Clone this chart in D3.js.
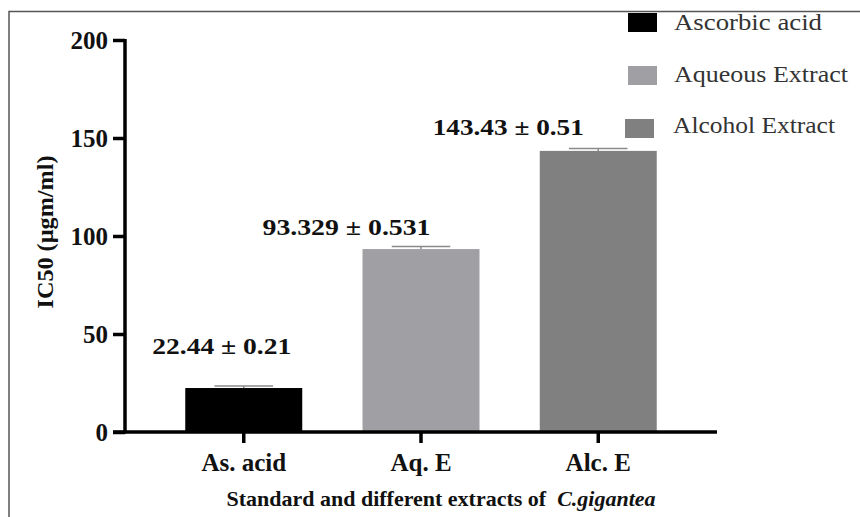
<!DOCTYPE html>
<html>
<head>
<meta charset="utf-8">
<script src="https://cdn.jsdelivr.net/npm/d3@7"></script>
<style>
  html, body { margin: 0; padding: 0; background: #fff; }
  svg { display: block; }
  text { font-family: "Liberation Serif", "Times New Roman", serif; }
</style>
</head>
<body>
<svg id="chart" width="860" height="517"></svg>
<script>
// ---- data ----
const categories = ["As. acid", "Aq. E", "Alc. E"];
const means = [22.44, 93.329, 143.43];
const errors = [0.21, 0.531, 0.51];
const valueLabels = ["22.44 ± 0.21", "93.329 ± 0.531", "143.43 ± 0.51"];
const seriesNames = ["Ascorbic acid", "Aqueous Extract", "Alcohol Extract"];
const yTicks = [0, 50, 100, 150, 200];

// ---- styling / layout ----
const colors = ["#000000", "#a0a0a4", "#808080"];
const labelOffsets = [{dx: -33, dy: -34}, {dx: -100, dy: -14}, {dx: -107, dy: -16}];

const svg = d3.select("#chart");

// frame (top and left edges visible)
svg.append("path")
  .attr("d", "M9,517 V11.5 H860")
  .attr("fill", "none").attr("stroke", "#555").attr("stroke-width", 1.5);

const x = d3.scaleBand().domain(categories).range([125, 717])
  .paddingInner(0.34).paddingOuter(0.34);
const y = d3.scaleLinear().domain([0, 200]).range([432, 40]);

const data = categories.map((c, i) => ({c, m: means[i], e: errors[i], lab: valueLabels[i], col: colors[i], off: labelOffsets[i]}));

// bars
svg.append("g").selectAll("rect").data(data).join("rect")
  .attr("x", d => x(d.c)).attr("width", x.bandwidth())
  .attr("y", d => y(d.m)).attr("height", d => y(0) - y(d.m))
  .attr("fill", d => d.col);

// error bars
const eb = svg.append("g").attr("stroke", "#8a8a8a").attr("stroke-width", 1.5);
eb.selectAll("line.v").data(data).join("line").attr("class", "v")
  .attr("x1", d => x(d.c) + x.bandwidth() / 2).attr("x2", d => x(d.c) + x.bandwidth() / 2)
  .attr("y1", d => y(d.m)).attr("y2", d => y(d.m + d.e) - 1.5);
eb.selectAll("line.c").data(data).join("line").attr("class", "c")
  .attr("x1", d => x(d.c) + x.bandwidth() / 4).attr("x2", d => x(d.c) + x.bandwidth() * 3 / 4)
  .attr("y1", d => y(d.m + d.e) - 1.5).attr("y2", d => y(d.m + d.e) - 1.5);

// y axis
const yAxis = svg.append("g").attr("transform", "translate(125,0)")
  .call(d3.axisLeft(y).tickValues(yTicks).tickSize(12).tickPadding(5).tickSizeOuter(0));
yAxis.select(".domain").attr("stroke", "#000").attr("stroke-width", 3.5).attr("d", `M0,${y(200) - 1}V${y(0) + 1.5}`);
yAxis.selectAll(".tick line").attr("stroke", "#000").attr("stroke-width", 3.5);
yAxis.selectAll(".tick text").attr("fill", "#111")
  .style("font-family", "Liberation Serif, serif").style("font-size", "25px").style("font-weight", "bold");

// x axis
const xAxis = svg.append("g").attr("transform", `translate(0,${y(0)})`)
  .call(d3.axisBottom(x).tickSize(11).tickPadding(10).tickSizeOuter(0));
xAxis.select(".domain").attr("stroke", "#000").attr("stroke-width", 3.5).attr("d", "M113,0H717");
xAxis.selectAll(".tick line").attr("stroke", "#000").attr("stroke-width", 3.5);
xAxis.selectAll(".tick text").attr("fill", "#111")
  .style("font-family", "Liberation Serif, serif").style("font-size", "25px").style("font-weight", "bold");

// value labels
svg.append("g").selectAll("text").data(data).join("text")
  .attr("x", d => x(d.c) + d.off.dx).attr("y", d => y(d.m) + d.off.dy)
  .attr("fill", "#111").style("font-size", "24px").style("font-weight", "bold")
  .attr("textLength", (d, i) => [139, 168, 151][i]).attr("lengthAdjust", "spacingAndGlyphs")
  .text(d => d.lab);

// y title
svg.append("text")
  .attr("transform", "translate(53,232) rotate(-90)")
  .attr("text-anchor", "middle").attr("fill", "#111")
  .attr("textLength", 153).attr("lengthAdjust", "spacingAndGlyphs")
  .style("font-size", "23px").style("font-weight", "bold")
  .text("IC50 (µgm/ml)");

// x title
const xt = svg.append("text").attr("x", 441).attr("y", 506).attr("text-anchor", "middle")
  .attr("fill", "#111").style("font-size", "22px").style("font-weight", "bold");
xt.append("tspan").text("Standard and different extracts of \u00a0");
xt.append("tspan").style("font-style", "italic").text("C.gigantea");

// legend
const legendPos = [{sx: 628, sy: 13, tx: 674, ty: 30, w: 148}, {sx: 628, sy: 66, tx: 674, ty: 82, w: 174}, {sx: 625, sy: 119, tx: 673, ty: 133, w: 162}];
const lg = svg.append("g");
seriesNames.forEach((n, i) => {
  const p = legendPos[i];
  lg.append("rect").attr("x", p.sx).attr("y", p.sy).attr("width", 29).attr("height", 19).attr("fill", colors[i]);
  lg.append("text").attr("x", p.tx).attr("y", p.ty).attr("fill", "#333")
    .attr("textLength", p.w).attr("lengthAdjust", "spacingAndGlyphs")
    .style("font-size", "23px").text(n);
});
</script>
</body>
</html>
